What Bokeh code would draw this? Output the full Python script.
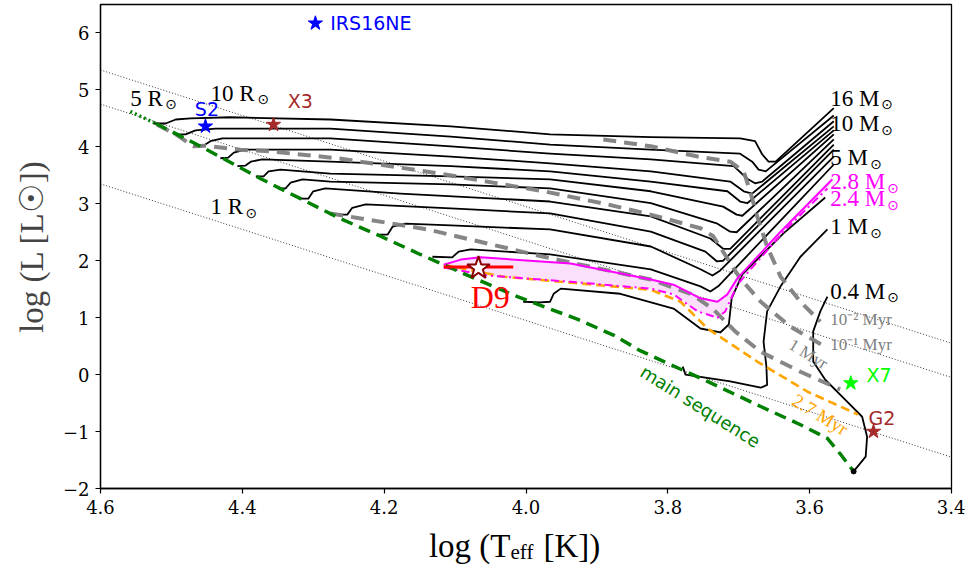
from bokeh.plotting import figure
from bokeh.models import Range1d, FixedTicker, PrintfTickFormatter
from bokeh.layouts import column
from bokeh.core.properties import value
from bokeh.embed import file_html
from bokeh.resources import INLINE

# ---------------- data (log Teff, log L) ----------------
# constant-radius lines
r1_logT = [4.6, 3.4];  r1_logL = [3.35, -1.45]
r5_logT = [4.6, 3.4];  r5_logL = [4.75, -0.05]
r10_logT = [4.6, 3.4]; r10_logL = [5.35, 0.55]

# main sequence
ms_dot_logT = [4.558, 4.522]
ms_dot_logL = [4.62, 4.41]
ms_logT = [4.522, 4.459, 4.374, 4.318, 4.262, 4.205, 4.149, 4.078, 4.012, 3.927, 3.876, 3.839, 3.744, 3.669, 3.613, 3.575, 3.557, 3.538]
ms_logL = [4.41, 4.01, 3.44, 3.09, 2.74, 2.43, 2.11, 1.72, 1.37, 0.97, 0.69, 0.42, -0.12, -0.56, -0.88, -1.12, -1.39, -1.70]

# evolutionary tracks (black)
trk01_logT = [4.525, 4.508, 4.494, 4.473, 4.417, 4.276, 4.106, 3.966, 3.824, 3.698, 3.677, 3.667, 3.658, 3.648, 3.566]
trk01_logL = [4.41, 4.41, 4.48, 4.50, 4.52, 4.48, 4.36, 4.22, 4.17, 4.15, 4.10, 3.87, 3.74, 3.74, 4.68]
trk02_logT = [4.497, 4.480, 4.466, 4.438, 4.276, 4.106, 3.966, 3.824, 3.698, 3.681, 3.672, 3.662, 3.566]
trk02_logL = [4.22, 4.22, 4.29, 4.32, 4.32, 4.18, 4.04, 3.95, 3.88, 3.74, 3.60, 3.57, 4.55]
trk03_logT = [4.469, 4.455, 4.445, 4.428, 4.276, 4.106, 3.966, 3.824, 3.707, 3.688, 3.677, 3.667, 3.566]
trk03_logL = [4.01, 4.02, 4.10, 4.15, 4.15, 4.01, 3.88, 3.78, 3.66, 3.44, 3.36, 3.39, 4.45]
trk04_logT = [4.431, 4.420, 4.412, 4.396, 4.276, 4.106, 3.966, 3.824, 3.712, 3.693, 3.681, 3.566]
trk04_logL = [3.80, 3.81, 3.90, 3.95, 3.95, 3.83, 3.71, 3.57, 3.39, 3.22, 3.18, 4.36]
trk05_logT = [4.407, 4.396, 4.388, 4.372, 4.276, 4.106, 3.966, 3.824, 3.716, 3.698, 3.688, 3.566]
trk05_logL = [3.66, 3.67, 3.74, 3.78, 3.74, 3.66, 3.57, 3.39, 3.22, 3.04, 3.01, 4.29]
trk06_logT = [4.381, 4.370, 4.363, 4.346, 4.276, 4.106, 3.966, 3.824, 3.722, 3.703, 3.695, 3.566]
trk06_logL = [3.48, 3.48, 3.57, 3.60, 3.53, 3.48, 3.43, 3.22, 2.95, 2.81, 2.79, 4.22]
trk07_logT = [4.350, 4.339, 4.332, 4.315, 4.276, 4.106, 3.966, 3.824, 3.730, 3.712, 3.703, 3.566]
trk07_logL = [3.27, 3.27, 3.37, 3.43, 3.39, 3.34, 3.27, 3.01, 2.65, 2.51, 2.50, 4.13]
trk08_logT = [4.318, 4.307, 4.300, 4.283, 4.177, 3.966, 3.824, 3.740, 3.722, 3.712, 3.566]
trk08_logL = [3.09, 3.09, 3.22, 3.27, 3.18, 3.04, 2.78, 2.39, 2.21, 2.21, 4.04]
trk09_logT = [4.266, 4.252, 4.245, 4.226, 4.106, 3.966, 3.824, 3.747, 3.731, 3.722, 3.566]
trk09_logL = [2.81, 2.81, 2.93, 2.99, 2.92, 2.83, 2.51, 2.16, 1.99, 2.00, 3.95]
trk10_logT = [4.209, 4.195, 4.188, 4.170, 4.106, 3.966, 3.824, 3.754, 3.737, 3.726, 3.566]
trk10_logL = [2.46, 2.46, 2.60, 2.65, 2.62, 2.55, 2.25, 1.85, 1.74, 1.83, 3.83]
trk11_logT = [4.132, 4.104, 4.095, 4.078, 3.966, 3.824, 3.754, 3.740, 3.729, 3.566]
trk11_logL = [2.07, 2.06, 2.16, 2.20, 2.11, 1.85, 1.55, 1.46, 1.55, 3.69]
trk20_logT = [4.004, 3.980, 3.966, 3.961, 3.951, 3.867, 3.839, 3.792, 3.754, 3.726, 3.714, 3.710, 3.695, 3.637, 3.578]
trk20_logL = [1.28, 1.27, 1.28, 1.42, 1.51, 1.42, 1.32, 1.16, 0.81, 0.74, 0.88, 1.34, 1.76, 2.48, 3.11]
trk1_logT = [3.779, 3.775, 3.754, 3.712, 3.669, 3.660, 3.661, 3.665, 3.660, 3.641, 3.613, 3.575]
trk1_logL = [0.14, 0.00, -0.04, -0.12, -0.23, -0.18, 0.14, 0.58, 1.11, 1.55, 2.07, 2.55]
trk04m_logT = [3.575, 3.585, 3.595, 3.595, 3.578, 3.550, 3.526, 3.519, 3.521, 3.538]
trk04m_logL = [1.37, 1.11, 0.76, 0.23, -0.09, -0.44, -0.74, -1.09, -1.44, -1.70]

# magenta tracks
trk28_logT = [4.116, 4.092, 4.064, 3.937, 3.824, 3.792, 3.754, 3.730, 3.716, 3.702, 3.641, 3.568]
trk28_logL = [1.93, 2.02, 2.06, 1.95, 1.67, 1.58, 1.34, 1.28, 1.41, 1.69, 2.51, 3.43]
trk24_logT = [4.116, 4.054, 3.937, 3.824, 3.792, 3.758, 3.730, 3.719, 3.702, 3.637, 3.575]
trk24_logL = [1.88, 1.74, 1.63, 1.51, 1.41, 1.11, 1.00, 1.11, 1.58, 2.51, 3.27]

# isochrones
iso_m2_logT = [3.891, 3.824, 3.758, 3.712, 3.693, 3.684, 3.674, 3.660, 3.641, 3.613, 3.585]
iso_m2_logL = [4.13, 4.01, 3.83, 3.74, 3.57, 3.22, 2.78, 2.25, 1.72, 1.28, 0.93]
iso_m1_logT = [4.520, 4.494, 4.469, 4.452, 4.403, 4.360, 4.266, 4.121, 3.975, 3.885, 3.815, 3.754, 3.736, 3.716, 3.698, 3.669, 3.627, 3.578]
iso_m1_logL = [4.39, 4.22, 4.01, 4.02, 3.95, 3.92, 3.80, 3.53, 3.22, 2.99, 2.78, 2.57, 2.43, 2.04, 1.69, 1.28, 0.84, 0.49]
iso_1_logT = [4.276, 4.139, 3.975, 3.824, 3.768, 3.737, 3.705, 3.669, 3.613, 3.557]
iso_1_logL = [2.83, 2.55, 2.07, 1.67, 1.42, 1.16, 0.76, 0.40, 0.05, -0.26]
iso_27_logT = [4.116, 4.032, 3.923, 3.824, 3.782, 3.744, 3.674, 3.603, 3.532]
iso_27_logL = [1.93, 1.72, 1.60, 1.49, 1.28, 0.81, 0.23, -0.30, -0.70]

# stars
star_names = ["IRS16NE", "S2", "X3", "X7", "G2"]
star_logT = [4.297, 4.452, 4.356, 3.542, 3.510]
star_logL = [6.17, 4.36, 4.39, -0.15, -1.00]
star_colors = ["blue", "blue", "brown", "lime", "brown"]
star_lab_logT = [4.276, 4.467, 4.336, 3.520, 3.517]
star_lab_logL = [6.17, 4.66, 4.80, 0.00, -0.76]
d9_logT = [4.067]; d9_logL = [1.87]
d9_err_logT = [4.116, 4.018]; d9_err_logL = [1.89, 1.89]

# mass / radius labels: main text, its pixel width (for the small ⊙ subscript)
mass_labels = ["16 M", "10 M", "5 M", "1 M", "0.4 M"]
mass_lab_logL = [4.85, 4.41, 3.81, 2.60, 1.46]
mass_lab_w = [50, 50, 39, 39, 56]
mag_labels = ["2.8 M", "2.4 M"]
mag_lab_logL = [3.39, 3.09]
mag_lab_w = [56, 56]
radius_labels = ["5 R", "10 R", "1 R"]
radius_lab_logT = [4.558, 4.445, 4.445]
radius_lab_logL = [4.85, 4.94, 2.95]
radius_lab_w = [34, 46, 34]

x_ticks = [4.6, 4.4, 4.2, 4.0, 3.8, 3.6, 3.4]
y_ticks = [-2, -1, 0, 1, 2, 3, 4, 5, 6]

# x-axis title pieces (main text, subscript, rest)
xl_parts = ["log (T", "eff", "[K])"]
xl_logT = [4.0219, 4.0219, 3.9754]
xl_align = ["right", "left", "left"]
xl_level = [23, 17, 23]
xl_sizes = ["33px", "21px", "33px"]

SERIF = "Liberation Serif"
TICKFONT = "DejaVu Serif"

p = figure(width=965, height=522, output_backend="svg", toolbar_location=None,
           x_range=Range1d(4.6, 3.4), y_range=Range1d(-2, 6.5),
           min_border_left=100, min_border_right=14, min_border_top=4, min_border_bottom=34)
p.xgrid.visible = False
p.ygrid.visible = False
p.outline_line_color = "black"
p.outline_line_width = 1.3
p.background_fill_color = "white"
p.border_fill_color = "white"

p.xaxis.ticker = FixedTicker(ticks=x_ticks)
p.yaxis.ticker = FixedTicker(ticks=y_ticks)
p.xaxis.formatter = PrintfTickFormatter(format="%.1f")
p.yaxis.major_label_overrides = {-2: "−2", -1: "−1"}
for axl in (p.xaxis, p.yaxis):
    axl.axis_line_width = 1.3
    axl.major_tick_in = 0
    axl.major_tick_out = 5
    axl.minor_tick_out = 0
    axl.minor_tick_in = 0
    axl.major_label_text_font_size = "18px"
    axl.major_label_text_font = TICKFONT
    axl.major_label_text_color = "black"
    axl.major_tick_line_width = 1.2
    axl.major_label_standoff = 6
p.yaxis.axis_label = "log (L [L☉])"
p.yaxis.axis_label_text_font = SERIF
p.yaxis.axis_label_text_font_size = "33px"
p.yaxis.axis_label_text_font_style = "normal"
p.yaxis.axis_label_standoff = 10

# radius lines
for xs, ys in ((r1_logT, r1_logL), (r5_logT, r5_logL), (r10_logT, r10_logL)):
    p.line(xs, ys, line_color="black", line_width=0.8, line_dash="1 2")

# pink band between 2.8 and 2.4
p.patch(trk28_logT + trk24_logT[::-1], trk28_logL + trk24_logL[::-1],
        fill_color="#fbe0fb", line_color=None)

# black tracks
for xs, ys in ((trk01_logT, trk01_logL), (trk02_logT, trk02_logL), (trk03_logT, trk03_logL),
               (trk04_logT, trk04_logL), (trk05_logT, trk05_logL), (trk06_logT, trk06_logL),
               (trk07_logT, trk07_logL), (trk08_logT, trk08_logL), (trk09_logT, trk09_logL),
               (trk10_logT, trk10_logL), (trk11_logT, trk11_logL), (trk20_logT, trk20_logL),
               (trk1_logT, trk1_logL), (trk04m_logT, trk04m_logL)):
    p.line(xs, ys, line_color="black", line_width=1.8, line_join="round")

# isochrones
for xs, ys in ((iso_m2_logT, iso_m2_logL), (iso_m1_logT, iso_m1_logL), (iso_1_logT, iso_1_logL)):
    p.line(xs, ys, line_color="gray", line_width=4, line_dash="13 8", line_alpha=0.95)
p.line(iso_27_logT, iso_27_logL, line_color="orange", line_width=2.6, line_dash="9 5")

# magenta tracks
p.line(trk28_logT, trk28_logL, line_color="magenta", line_width=2)
p.line(trk24_logT, trk24_logL, line_color="magenta", line_width=2, line_dash="8 4 2 4")

# main sequence
p.line(ms_dot_logT, ms_dot_logL, line_color="green", line_width=3.5, line_dash="2 3")
p.line(ms_logT, ms_logL, line_color="green", line_width=3.5, line_dash="12 7")
p.scatter([trk04m_logT[-1]], [trk04m_logL[-1]], size=5, color="black")

# stars
p.scatter(star_logT, star_logL, marker="star", size=15, color=star_colors)
p.line(d9_err_logT, d9_err_logL, line_color="red", line_width=3)
p.scatter(d9_logT, d9_logL, marker="star", size=24, fill_color="white",
          line_color="darkred", line_width=2)

# labels
p.text(star_lab_logT, star_lab_logL, text=star_names, text_color=star_colors,
       text_font=value("DejaVu Sans"), text_font_size="19px",
       text_align="left", text_baseline="middle")
p.text([4.078], [1.36], text=["D9"], text_color="red", text_font=value(SERIF),
       text_font_size="32px", text_align="left", text_baseline="middle")


def sun_label(xs, ys, texts, widths, color):
    p.text(xs, ys, text=texts, text_color=color, text_font=value(SERIF),
           text_font_size="23px", text_align="left", text_baseline="middle")
    p.text(xs, ys, text=["⊙"] * len(texts), text_color=color, text_font=value("DejaVu Sans"),
           text_font_size="14px", text_align="left", text_baseline="middle",
           x_offset=[w + 1 for w in widths], y_offset=6)


sun_label([3.571] * len(mass_labels), mass_lab_logL, mass_labels, mass_lab_w, "black")
sun_label([3.571] * len(mag_labels), mag_lab_logL, mag_labels, mag_lab_w, "magenta")
sun_label(radius_lab_logT, radius_lab_logL, radius_labels, radius_lab_w, "black")

p.text([3.571, 3.571], [0.97, 0.53], text=["10⁻² Myr", "10⁻¹ Myr"], text_color="gray",
       text_font=value(SERIF), text_font_size="17px", text_align="left", text_baseline="middle")
p.text([3.602], [0.36], text=["1 Myr"], text_color="gray", angle=-0.55,
       text_font=value(SERIF), text_font_size="17px", text_align="center", text_baseline="middle")
p.text([3.585], [-0.70], text=["2.7 Myr"], text_color="orange", angle=-0.55,
       text_font=value(SERIF), text_font_size="19px", text_align="center", text_baseline="middle")
p.text([3.754], [-0.56], text=["main sequence"], text_color="green", angle=-0.56,
       text_font=value("DejaVu Sans"), text_font_size="18px", text_align="center", text_baseline="middle")

# x-axis title strip, sharing the main x range
q = figure(width=965, height=46, output_backend="svg", toolbar_location=None,
           x_range=p.x_range, y_range=Range1d(0, 46),
           x_axis_location=None, y_axis_location=None,
           min_border_left=100, min_border_right=14, min_border_top=0, min_border_bottom=0)
q.outline_line_color = None
q.xgrid.visible = False
q.ygrid.visible = False
q.text(xl_logT, xl_level, text=xl_parts, text_font=value(SERIF), text_font_size=xl_sizes,
       text_color="black", text_align=xl_align, text_baseline="alphabetic")

layout = column(p, q, spacing=0)
open("out.html", "w").write(file_html(layout, INLINE))
